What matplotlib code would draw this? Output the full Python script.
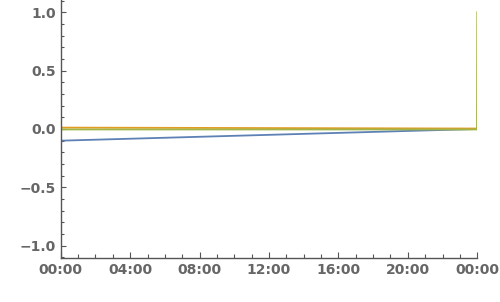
import datetime as dt
import matplotlib
matplotlib.use("Agg")
import matplotlib.pyplot as plt
import matplotlib.dates as mdates

start = dt.datetime(2000, 1, 1, 0, 0)
end = dt.datetime(2000, 1, 2, 0, 0)

# series
blue_t = [start, end]
blue_v = [-0.1, 0.0]
orange_t = [start, start + dt.timedelta(minutes=1), end]
orange_v = [1.0, 0.012, 0.004]
green_t = [start, end - dt.timedelta(minutes=1), end]
green_v = [-0.004, -0.004, 1.0]

yticks = [-1.0, -0.5, 0.0, 0.5, 1.0]

fig = plt.figure(figsize=(5.0, 3.02), dpi=100)
ax = fig.add_axes([0.1215, 0.1457, 0.833, 0.8543])

ax.plot(blue_t, blue_v, color="#5E81B5", lw=1.3)
ax.plot(orange_t, orange_v, color="#E19C24", lw=1.3)
ax.plot(green_t, green_v, color="#A3B546", lw=1.3)

ax.set_xlim(start, end)
ax.set_ylim(-1.105, 1.105)

ax.xaxis.set_major_locator(mdates.HourLocator(byhour=range(0, 24, 4)))
ax.xaxis.set_minor_locator(mdates.HourLocator())
ax.xaxis.set_major_formatter(mdates.DateFormatter("%H:%M"))
ax.set_yticks(yticks)
ax.set_yticks([i / 10 for i in range(-11, 12)], minor=True)

for s in ["top", "right"]:
    ax.spines[s].set_visible(False)
for s in ["left", "bottom"]:
    ax.spines[s].set_color("#555555")
    ax.spines[s].set_linewidth(1.0)

ax.tick_params(which="both", direction="in", color="#555555", width=0.8,
               labelcolor="#666666", labelsize=10)
ax.tick_params(which="major", length=4.3)
ax.tick_params(which="minor", length=2.6)
ax.tick_params(axis="y", which="major", length=3.5)
ax.tick_params(axis="y", which="minor", length=2.0)
for lbl in ax.get_xticklabels() + ax.get_yticklabels():
    lbl.set_fontweight("bold")

fig.savefig("out.png", dpi=100)
